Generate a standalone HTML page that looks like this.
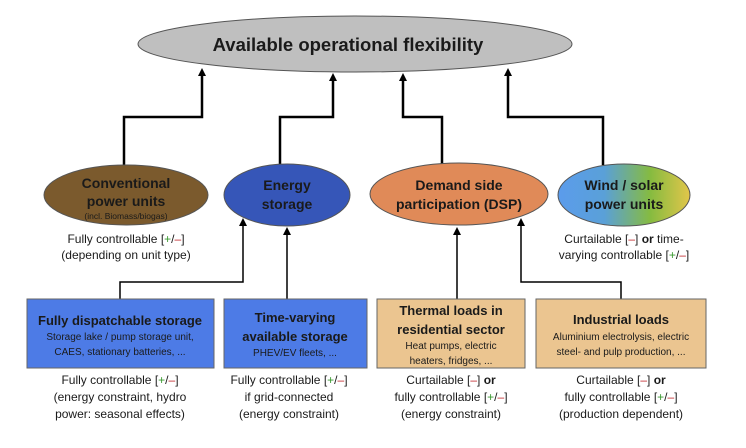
<!DOCTYPE html>
<html><head><meta charset="utf-8"><style>
html,body{margin:0;padding:0;background:#fff;width:746px;height:448px;overflow:hidden}
svg{display:block}
text{font-family:"Liberation Sans",sans-serif;text-anchor:middle;fill:#1a1a1a}
.b{font-weight:bold}
.g{fill:#3a9a30}.r{fill:#c0282c}
</style></head><body>
<svg width="746" height="448" viewBox="0 0 746 448" xmlns="http://www.w3.org/2000/svg">
<defs>
<marker id="a" markerWidth="8" markerHeight="8" refX="4" refY="4" orient="auto" markerUnits="userSpaceOnUse"><path d="M0,0 L8,4 L0,8 z" fill="#000"/></marker>
<linearGradient id="w" x1="0" x2="1" y1="0" y2="0"><stop offset="0" stop-color="#5b9cec"/><stop offset="0.35" stop-color="#5aa0d8"/><stop offset="0.7" stop-color="#86bb40"/><stop offset="1" stop-color="#e2c64a"/></linearGradient>
</defs>
<g fill="none" stroke="#000" stroke-width="2.5">
<path d="M124,165 V117 H202 V72" marker-end="url(#a)"/>
<path d="M280,165 V117 H333 V77" marker-end="url(#a)"/>
<path d="M442,165 V117 H403 V77" marker-end="url(#a)"/>
<path d="M603,165 V117 H508 V72" marker-end="url(#a)"/>
</g>
<g fill="none" stroke="#000" stroke-width="1.5">
<path d="M120,299 V282 H243 V222" marker-end="url(#a)"/>
<path d="M287,299 V231" marker-end="url(#a)"/>
<path d="M457,299 V231" marker-end="url(#a)"/>
<path d="M621,299 V282 H521 V222" marker-end="url(#a)"/>
</g>
<ellipse cx="355" cy="44" rx="217" ry="28" fill="#bfbfbf" stroke="#555" stroke-width="1"/>
<text x="348" y="51" class="b" font-size="18.5">Available operational flexibility</text>

<ellipse cx="126" cy="195" rx="82" ry="30" fill="#7b5a2d" stroke="#555" stroke-width="1"/>
<text x="126" y="188" class="b" font-size="14">Conventional</text>
<text x="126" y="206" class="b" font-size="14">power units</text>
<text x="126" y="219" font-size="8.5">(incl. Biomass/biogas)</text>

<ellipse cx="287" cy="195" rx="63" ry="31" fill="#3656b8" stroke="#555" stroke-width="1"/>
<text x="287" y="190" class="b" font-size="14">Energy</text>
<text x="287" y="209" class="b" font-size="14">storage</text>

<ellipse cx="459" cy="194" rx="89" ry="31" fill="#e08a58" stroke="#555" stroke-width="1"/>
<text x="459" y="190" class="b" font-size="14">Demand side</text>
<text x="459" y="209" class="b" font-size="14">participation (DSP)</text>

<ellipse cx="624" cy="195" rx="66" ry="31" fill="url(#w)" stroke="#555" stroke-width="1"/>
<text x="624" y="190" class="b" font-size="14">Wind / solar</text>
<text x="624" y="209" class="b" font-size="14">power units</text>

<g font-size="12">
<text x="126" y="243">Fully controllable [<tspan class="g">+</tspan>/<tspan class="r">–</tspan>]</text>
<text x="126" y="259">(depending on unit type)</text>
<text x="624" y="243">Curtailable [<tspan class="r">–</tspan>] <tspan class="b">or</tspan> time-</text>
<text x="624" y="259">varying controllable [<tspan class="g">+</tspan>/<tspan class="r">–</tspan>]</text>
</g>

<rect x="27" y="299" width="187" height="69" fill="#4d7be6" stroke="#666" stroke-width="1"/>
<rect x="224" y="299" width="143" height="69" fill="#4d7be6" stroke="#666" stroke-width="1"/>
<rect x="377" y="299" width="148" height="69" fill="#ebc590" stroke="#666" stroke-width="1"/>
<rect x="536" y="299" width="170" height="69" fill="#ebc590" stroke="#666" stroke-width="1"/>

<text x="120" y="325" class="b" font-size="13">Fully dispatchable storage</text>
<text x="120" y="340" font-size="10">Storage lake / pump storage unit,</text>
<text x="120" y="355" font-size="10">CAES, stationary batteries, ...</text>

<text x="295" y="322" class="b" font-size="13">Time-varying</text>
<text x="295" y="341" class="b" font-size="13">available storage</text>
<text x="295" y="356" font-size="10">PHEV/EV fleets, ...</text>

<text x="451" y="315" class="b" font-size="13">Thermal loads in</text>
<text x="451" y="334" class="b" font-size="13">residential sector</text>
<text x="451" y="349" font-size="10">Heat pumps, electric</text>
<text x="451" y="364" font-size="10">heaters, fridges, ...</text>

<text x="621" y="324" class="b" font-size="13">Industrial loads</text>
<text x="621" y="340" font-size="10">Aluminium electrolysis, electric</text>
<text x="621" y="355" font-size="10">steel- and pulp production, ...</text>

<g font-size="12">
<text x="120" y="384">Fully controllable [<tspan class="g">+</tspan>/<tspan class="r">–</tspan>]</text>
<text x="120" y="401">(energy constraint, hydro</text>
<text x="120" y="418">power: seasonal effects)</text>
<text x="289" y="384">Fully controllable [<tspan class="g">+</tspan>/<tspan class="r">–</tspan>]</text>
<text x="289" y="401">if grid-connected</text>
<text x="289" y="418">(energy constraint)</text>
<text x="451" y="384">Curtailable [<tspan class="r">–</tspan>] <tspan class="b">or</tspan></text>
<text x="451" y="401">fully controllable [<tspan class="g">+</tspan>/<tspan class="r">–</tspan>]</text>
<text x="451" y="418">(energy constraint)</text>
<text x="621" y="384">Curtailable [<tspan class="r">–</tspan>] <tspan class="b">or</tspan></text>
<text x="621" y="401">fully controllable [<tspan class="g">+</tspan>/<tspan class="r">–</tspan>]</text>
<text x="621" y="418">(production dependent)</text>
</g>
</svg>
</body></html>
